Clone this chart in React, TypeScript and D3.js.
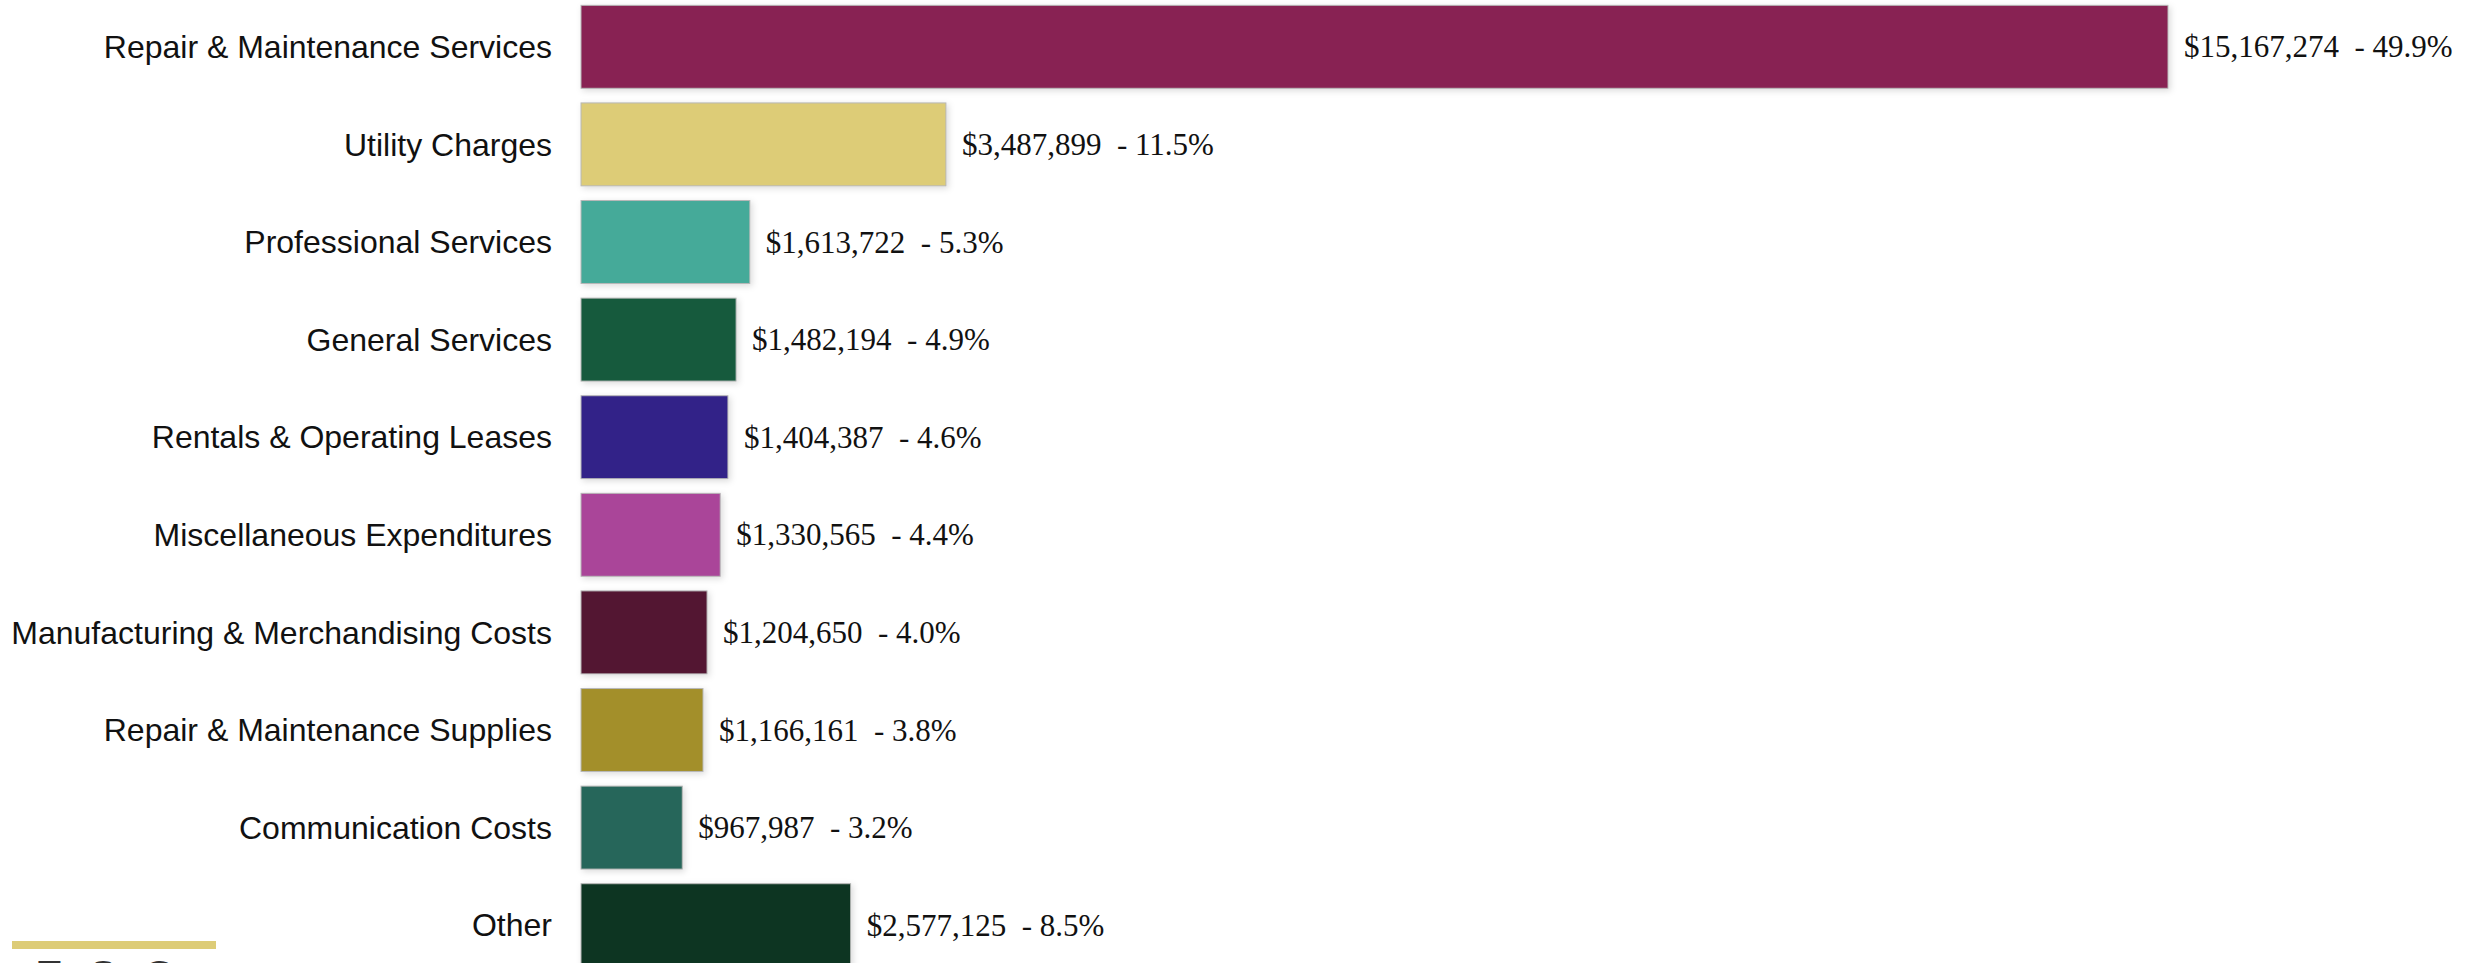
import React, { useEffect, useRef } from 'react'
import * as d3 from 'd3'

const categories = [
  'Repair & Maintenance Services',
  'Utility Charges',
  'Professional Services',
  'General Services',
  'Rentals & Operating Leases',
  'Miscellaneous Expenditures',
  'Manufacturing & Merchandising Costs',
  'Repair & Maintenance Supplies',
  'Communication Costs',
  'Other'
]

const amounts = [15167274, 3487899, 1613722, 1482194, 1404387, 1330565, 1204650, 1166161, 967987, 2577125]

const percents = [49.9, 11.5, 5.3, 4.9, 4.6, 4.4, 4.0, 3.8, 3.2, 8.5]

const colors = [
  '#882253', '#DDCC77', '#45AA99', '#135A3C', '#332288',
  '#AA4499', '#521431', '#A38F2A', '#28665A', '#0C3522'
]

const WIDTH = 2468
const HEIGHT = 963

export default function App() {
  const svgRef = useRef<SVGSVGElement>(null)

  useEffect(() => {
    const svg = d3.select(svgRef.current)
    svg.selectAll('*').remove()

    const rows = categories.map((name, i) => ({
      name,
      amount: amounts[i],
      pct: percents[i],
      color: colors[i]
    }))

    const xScale = d3.scaleLinear()
      .domain([0, d3.max(amounts) as number])
      .range([581, 2168])

    const yScale = d3.scaleBand()
      .domain(categories)
      .range([-2, -2 + categories.length * 97.6])
      .paddingInner(0.15)
      .paddingOuter(0.075)

    // soft shadow under the bars
    const defs = svg.append('defs')
    const filter = defs.append('filter')
      .attr('id', 'barShadow')
      .attr('x', '-10%').attr('y', '-10%')
      .attr('width', '130%').attr('height', '130%')
    filter.append('feDropShadow')
      .attr('dx', 2).attr('dy', 2)
      .attr('stdDeviation', 3)
      .attr('flood-color', '#000')
      .attr('flood-opacity', 0.14)

    const fmt = d3.format(',')

    const g = svg.append('g')

    g.selectAll('rect.bar')
      .data(rows)
      .enter()
      .append('rect')
      .attr('class', 'bar')
      .attr('x', xScale(0))
      .attr('y', d => yScale(d.name) as number)
      .attr('width', d => xScale(d.amount) - xScale(0))
      .attr('height', yScale.bandwidth())
      .attr('fill', d => d.color)
      .attr('stroke', '#b8b8b8')
      .attr('stroke-width', 1)
      .attr('filter', 'url(#barShadow)')

    // category labels
    g.selectAll('text.cat')
      .data(rows)
      .enter()
      .append('text')
      .attr('class', 'cat')
      .attr('x', 552)
      .attr('y', d => (yScale(d.name) as number) + yScale.bandwidth() / 2)
      .attr('dy', '0.35em')
      .attr('text-anchor', 'end')
      .style('font-family', 'Arial, "Liberation Sans", sans-serif')
      .style('font-size', '32px')
      .style('fill', '#111')
      .text(d => d.name)

    // value labels
    g.selectAll('text.val')
      .data(rows)
      .enter()
      .append('text')
      .attr('class', 'val')
      .attr('x', d => xScale(d.amount) + 16)
      .attr('y', d => (yScale(d.name) as number) + yScale.bandwidth() / 2)
      .attr('dy', '0.34em')
      .style('font-family', '"Times New Roman", "Liberation Serif", serif')
      .style('font-size', '31px')
      .style('fill', '#111')
      .style('white-space', 'pre')
      .text(d => '$' + fmt(d.amount) + '  - ' + d.pct.toFixed(1) + '%')

    // logo fragment bottom left, cut off by the page edge as in the original
    svg.append('rect')
      .attr('x', 12).attr('y', 941)
      .attr('width', 204).attr('height', 8)
      .attr('fill', '#DDCC77')

    svg.append('text')
      .attr('x', 35).attr('y', 990)
      .style('font-family', 'Arial, "Liberation Sans", sans-serif')
      .style('font-size', '42px')
      .style('letter-spacing', '26px')
      .style('fill', '#333')
      .text('ESG')
  }, [])

  return (
    <svg
      ref={svgRef}
      width={WIDTH}
      height={HEIGHT}
      style={{ position: 'absolute', left: 0, top: 0, display: 'block', background: '#fff' }}
    />
  )
}
